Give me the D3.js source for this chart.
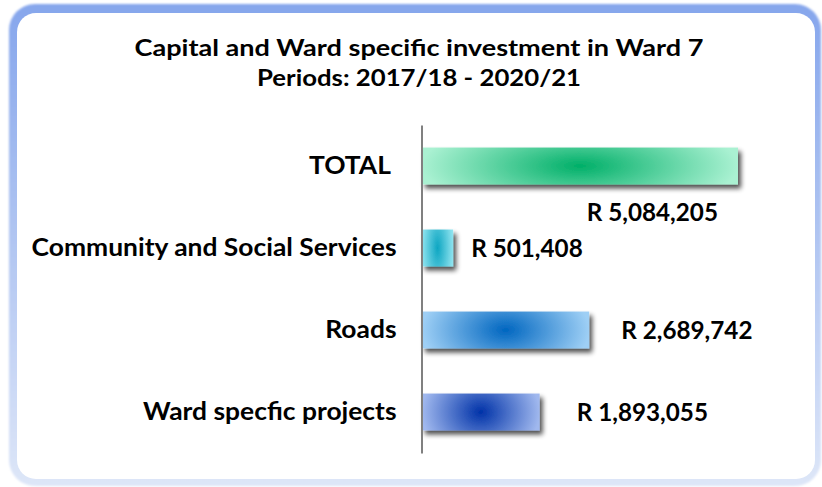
<!DOCTYPE html>
<html>
<head>
<meta charset="utf-8">
<script src="https://cdn.jsdelivr.net/npm/d3@7"></script>
<style>
  html, body { margin: 0; padding: 0; background: #ffffff; }
  svg { display: block; }
  text { font-family: Lato, "DejaVu Sans", sans-serif; font-weight: 700; fill: #000; }
</style>
</head>
<body>
<svg id="chart" width="822" height="487"></svg>
<script>
// Ward 7 investment, 2017/18 - 2020/21 (Rand)
const categories = ["TOTAL\u00a0", "Community and Social Services", "Roads", "Ward specfic projects"];
const amounts = [5084205, 501408, 2689742, 1893055];
const valueLabels = ["R 5,084,205", "R 501,408", "R 2,689,742", "R 1,893,055"];
const titleLines = ["Capital and Ward specific investment in Ward 7", "Periods: 2017/18 - 2020/21"];

// bar fill: centre colour -> edge colour
const barColours = [
  ["#00af68", "#aaf1d2"],
  ["#0ea6c2", "#8ee3ef"],
  ["#0066c0", "#9ecff5"],
  ["#0032a8", "#a0b8ee"]
];

const W = 822, H = 487;
const svg = d3.select("#chart");
const defs = svg.append("defs");

// widen text horizontally by a factor, keeping the glyph height
function widen(sel, k) {
  sel.each(function () {
    const len = this.getComputedTextLength();
    d3.select(this).attr("textLength", len * k).attr("lengthAdjust", "spacingAndGlyphs");
  });
}

// frame gradient and glow
const fg = defs.append("linearGradient").attr("id", "frameGrad")
  .attr("x1", 0).attr("y1", 0).attr("x2", 0).attr("y2", 1);
fg.append("stop").attr("offset", 0).attr("stop-color", "#86a6ec");
fg.append("stop").attr("offset", 1).attr("stop-color", "#dde6f8");
defs.append("filter").attr("id", "soft").attr("x", "-5%").attr("y", "-5%")
  .attr("width", "110%").attr("height", "110%")
  .append("feGaussianBlur").attr("stdDeviation", 1);

// drop shadow for bars
const sh = defs.append("filter").attr("id", "barShadow")
  .attr("x", "-20%").attr("y", "-30%").attr("width", "150%").attr("height", "180%");
sh.append("feGaussianBlur").attr("in", "SourceAlpha").attr("stdDeviation", 2.4).attr("result", "b");
sh.append("feOffset").attr("in", "b").attr("dx", 3).attr("dy", 4).attr("result", "o");
sh.append("feComponentTransfer").attr("in", "o").attr("result", "s")
  .append("feFuncA").attr("type", "linear").attr("slope", 0.7);
const mg = sh.append("feMerge");
mg.append("feMergeNode").attr("in", "s");
mg.append("feMergeNode").attr("in", "SourceGraphic");

barColours.forEach((c, i) => {
  const g = defs.append("radialGradient").attr("id", "bar" + i)
    .attr("cx", 0.5).attr("cy", 0.5).attr("r", 0.5)
    .attr("gradientTransform", "translate(0.5,0.5) scale(1,2.6) translate(-0.5,-0.5)");
  g.append("stop").attr("offset", 0).attr("stop-color", c[0]);
  g.append("stop").attr("offset", 1).attr("stop-color", c[1]);
});

// rounded frame
svg.append("rect").attr("x", 9).attr("y", 4).attr("width", 812).attr("height", 482)
  .attr("rx", 26).attr("fill", "url(#frameGrad)").attr("filter", "url(#soft)");
svg.append("rect").attr("x", 17).attr("y", 13).attr("width", 798).attr("height", 466)
  .attr("rx", 19).attr("fill", "#ffffff");

// title
svg.append("g").selectAll("text").data(titleLines).join("text")
  .attr("x", 419).attr("y", (d, i) => 56 + i * 30)
  .attr("text-anchor", "middle")
  .attr("font-size", 22)
  .text(d => d)
  .each(function (d, i) { widen(d3.select(this), i === 0 ? 1.23 : 1.17); });

// scales
const x0 = 422;
const x = d3.scaleLinear().domain([0, d3.max(amounts)]).range([x0, 738]);
const y = d3.scaleBand().domain(categories).range([125, 453])
  .paddingInner(0.55).paddingOuter(0.275);

// bars
svg.append("g").selectAll("rect").data(amounts).join("rect")
  .attr("x", x(0))
  .attr("y", (d, i) => y(categories[i]))
  .attr("width", d => x(d) - x(0))
  .attr("height", y.bandwidth())
  .attr("fill", (d, i) => `url(#bar${i})`)
  .attr("filter", "url(#barShadow)");

// category axis
const yAxis = d3.axisLeft(y).tickSize(0).tickPadding(25);
const ag = svg.append("g").attr("transform", `translate(${x0 - 0.5},0)`).call(yAxis);
ag.select(".domain").attr("stroke", "#808080").attr("stroke-width", 2);
ag.selectAll(".tick text")
  .attr("font-size", 24)
  .attr("font-family", 'Lato, "DejaVu Sans", sans-serif')
  .attr("font-weight", 700)
  .attr("fill", "#000")
  .call(widen, 1.1);

// value labels
const labelPos = [
  { dx: -20, dy: 46, anchor: "end" },
  { dx: 18, dy: 0, anchor: "start" },
  { dx: 32, dy: 0, anchor: "start" },
  { dx: 37, dy: 0, anchor: "start" }
];
svg.append("g").selectAll("text").data(amounts).join("text")
  .attr("x", (d, i) => x(d) + labelPos[i].dx)
  .attr("y", (d, i) => y(categories[i]) + y.bandwidth() / 2 + labelPos[i].dy)
  .attr("dy", "0.36em")
  .attr("text-anchor", (d, i) => labelPos[i].anchor)
  .attr("font-size", 25)
  .text((d, i) => valueLabels[i])
  .call(widen, 0.97);
</script>
</body>
</html>
